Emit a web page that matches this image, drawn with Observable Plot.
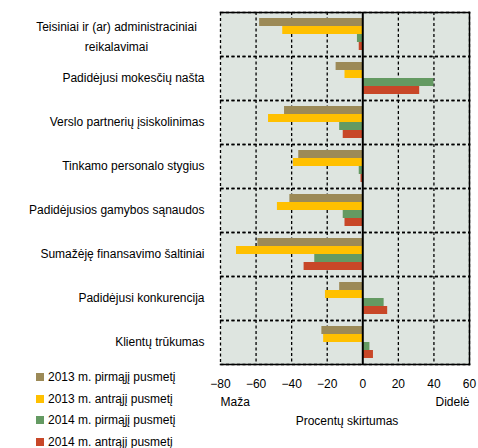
<!DOCTYPE html>
<html>
<head>
<meta charset="utf-8">
<script src="https://cdn.jsdelivr.net/npm/d3@7"></script>
<script src="https://cdn.jsdelivr.net/npm/@observablehq/plot@0.6"></script>
<style>
  html, body { margin: 0; padding: 0; background: #fff; }
  #wrap { position: relative; width: 478px; height: 448px; font-family: "Liberation Sans", Arial, sans-serif; }
  #legend { position: absolute; left: 36px; top: 366px; font-size: 12px; color: #000; }
  #legend .item { display: flex; align-items: center; height: 21.8px; white-space: nowrap; }
  #legend .sw { width: 8px; height: 8px; margin-right: 4px; flex: none; }
</style>
</head>
<body>
<div id="wrap"><div id="chart"></div><div id="legend"></div></div>
<script>
const categories = [
  "Teisiniai ir (ar) administraciniai\nreikalavimai",
  "Padidėjusi mokesčių našta",
  "Verslo partnerių įsiskolinimas",
  "Tinkamo personalo stygius",
  "Padidėjusios gamybos sąnaudos",
  "Sumažėję finansavimo šaltiniai",
  "Padidėjusi konkurencija",
  "Klientų trūkumas"
];
const series = [
  "2013 m. pirmąjį pusmetį",
  "2013 m. antrąjį pusmetį",
  "2014 m. pirmąjį pusmetį",
  "2014 m. antrąjį pusmetį"
];
const colors = ["#9c8a57", "#ffc000", "#649a62", "#c84728"];
const v2013h1 = [-58, -15, -44, -36, -41, -59, -13, -23];
const v2013h2 = [-45, -10, -53, -39, -48, -71, -21, -22];
const v2014h1 = [-3, 40, -13, -2, -11, -27, 12, 4];
const v2014h2 = [-2, 32, -11, -1, -10, -33, 14, 6];
const xTicks = [-80, -60, -40, -20, 0, 20, 40, 60];
const gridTicks = [-60, -40, -20, 20, 40];
const leftLabel = "Maža";
const rightLabel = "Didelė";
const axisTitle = "Procentų skirtumas";

const valueSets = [v2013h1, v2013h2, v2014h1, v2014h2];
const table = [];
categories.forEach((c, i) => series.forEach((s, j) => table.push({cat: c, series: s, value: valueSets[j][i]})));
const lastCat = categories[categories.length - 1];

const chart = Plot.plot({
  width: 478,
  height: 448,
  marginTop: 12,
  marginLeft: 220,
  marginRight: 9,
  marginBottom: 84,
  style: {fontFamily: "'Liberation Sans', Arial, sans-serif", fontSize: "12px", color: "#000", background: "transparent"},
  x: {domain: [-80, 60], axis: null},
  y: {domain: series, paddingInner: 0, paddingOuter: 0.75, axis: null},
  fy: {domain: categories, padding: 0, axis: null},
  color: {domain: series, range: colors},
  marks: [
    Plot.frame({fill: "#dee5e0"}),
    Plot.ruleX(gridTicks, {stroke: "#000", strokeWidth: 1.3, strokeDasharray: "3,2.5"}),
    Plot.frame({stroke: "#000", strokeWidth: 1.3, strokeDasharray: "3,2.5"}),
    Plot.barX(table, {x: "value", y: "series", fy: "cat", fill: "series"}),
    Plot.ruleX([0], {stroke: "#000", strokeWidth: 2}),
    Plot.frame({anchor: "right", stroke: "#000", strokeWidth: 1.5}),
    Plot.frame({anchor: "top", facetAnchor: "top", stroke: "#000", strokeWidth: 1.5}),
    Plot.frame({anchor: "bottom", facetAnchor: "bottom", stroke: "#000", strokeWidth: 1.5}),
    Plot.axisX({ticks: xTicks, tickSize: 0, tickPadding: 15, label: null, tickFormat: d => (d < 0 ? "\u2212" + Math.abs(d) : String(d))}),
    Plot.text(categories.slice(1), {fy: d => d, frameAnchor: "left", textAnchor: "end", dx: -16, fill: "#000"}),
    Plot.text(categories.slice(0, 1), {fy: d => d, frameAnchor: "left", textAnchor: "middle", dx: -104, lineHeight: 1.65, fill: "#000"}),
    Plot.text([leftLabel], {fy: () => lastCat, frameAnchor: "bottom-left", textAnchor: "start", dy: 41, fill: "#000"}),
    Plot.text([rightLabel], {fy: () => lastCat, frameAnchor: "bottom-right", textAnchor: "end", dy: 41, fill: "#000"}),
    Plot.text([axisTitle], {fy: () => lastCat, frameAnchor: "bottom", dy: 60, dx: 2, fill: "#000"})
  ]
});
document.getElementById("chart").appendChild(chart);

const legend = document.getElementById("legend");
series.forEach((s, i) => {
  const item = document.createElement("div");
  item.className = "item";
  const sw = document.createElement("span");
  sw.className = "sw";
  sw.style.background = colors[i];
  const t = document.createElement("span");
  t.textContent = s;
  item.appendChild(sw);
  item.appendChild(t);
  legend.appendChild(item);
});
</script>
</body>
</html>
